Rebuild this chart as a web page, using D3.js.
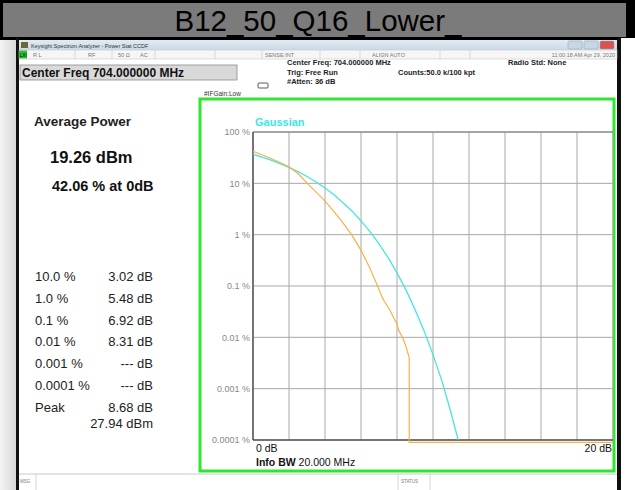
<!DOCTYPE html>
<html><head><meta charset="utf-8">
<script src="https://cdn.jsdelivr.net/npm/d3@7"></script>
<style>
html,body{margin:0;padding:0;background:#fff;}
svg{display:block;font-family:"Liberation Sans",Arial,sans-serif;}
</style></head>
<body>
<svg id="c" width="635" height="490"></svg>
<script>
// ---- data ----
const measuredDb  = [0, 0.5, 1, 1.5, 2, 2.5, 3.02, 3.5, 4, 4.5, 5, 5.48, 6, 6.5, 6.92, 7.2, 7.3, 7.6, 7.9, 8.0, 8.1, 8.31, 8.5, 8.68, 8.68, 20];
const measuredPct = [42.06, 36, 30.5, 25.5, 21, 15.5, 10, 6.8, 4.5, 2.8, 1.7, 1.0, 0.5, 0.22, 0.1, 0.058, 0.05, 0.034, 0.021, 0.018, 0.0135, 0.01, 0.0066, 0.004, 0.00009, 0.00009];
const gaussDb  = [0, 0.5, 1, 1.5, 2, 2.5, 3, 3.5, 4, 4.5, 5, 5.5, 6, 6.5, 7, 7.5, 8, 8.5, 9, 9.5, 10, 10.5, 11, 11.4];
const gaussPct = [37, 32.5, 28.3, 24.3, 20.5, 16.9, 13.6, 10.6, 8.1, 6.0, 4.2, 2.9, 1.85, 1.15, 0.66, 0.36, 0.18, 0.084, 0.035, 0.0135, 0.0046, 0.0014, 0.00034, 0.0001];
const yTickValues = [100, 10, 1, 0.1, 0.01, 0.001, 0.0001];
const yTickLabels = ["100 %", "10 %", "1 %", "0.1 %", "0.01 %", "0.001 %", "0.0001 %"];
const xTickValues = [0, 2, 4, 6, 8, 10, 12, 14, 16, 18, 20];
const tableLabels = ["10.0 %", "1.0 %", "0.1 %", "0.01 %", "0.001 %", "0.0001 %", "Peak"];
const tableValues = ["3.02 dB", "5.48 dB", "6.92 dB", "8.31 dB", "--- dB", "--- dB", "8.68 dB"];
const peakDbm = "27.94 dBm";
const avgPower = "19.26 dBm";
const atZero = "42.06 % at 0dB";

const svg = d3.select("#c");

// ---- page background ----
const defs = svg.append("defs");
const lg = defs.append("linearGradient").attr("id","bgL").attr("x1",0).attr("x2",1).attr("y1",0).attr("y2",0);
lg.append("stop").attr("offset","0").attr("stop-color","#f4f4f4");
lg.append("stop").attr("offset","1").attr("stop-color","#d6d6d6");
svg.append("rect").attr("x",0).attr("y",0).attr("width",635).attr("height",490).attr("fill","#fff");
svg.append("rect").attr("x",0).attr("y",38).attr("width",17).attr("height",452).attr("fill","url(#bgL)");

// title band
svg.append("rect").attr("x",0).attr("y",0).attr("width",635).attr("height",40).attr("fill","#000");
svg.append("rect").attr("x",3).attr("y",3).attr("width",623).attr("height",34).attr("fill","#7b7b7b");
svg.append("text").attr("x",318).attr("y",31).attr("text-anchor","middle")
  .attr("font-size",29.5).attr("fill","#000").text("B12_50_Q16_Lower_");

// window borders
svg.append("rect").attr("x",16).attr("y",38).attr("width",3).attr("height",452).attr("fill","#111");
svg.append("rect").attr("x",617).attr("y",38).attr("width",4).attr("height",452).attr("fill","#111");
svg.append("rect").attr("x",621).attr("y",38).attr("width",14).attr("height",452).attr("fill","#fff");

// window title bar
const tg = defs.append("linearGradient").attr("id","tb").attr("x1",0).attr("x2",0).attr("y1",0).attr("y2",1);
tg.append("stop").attr("offset","0").attr("stop-color","#e2ecf4");
tg.append("stop").attr("offset","1").attr("stop-color","#c9d9e7");
svg.append("rect").attr("x",19).attr("y",40).attr("width",598).attr("height",10).attr("fill","url(#tb)");
svg.append("rect").attr("x",21).attr("y",42).attr("width",7).attr("height",6).attr("fill","#6b6b3a");
svg.append("text").attr("x",31).attr("y",47.5).attr("font-size",5.5).attr("fill","#333")
  .text("Keysight Spectrum Analyzer - Power Stat CCDF");
[[568,"#c8d6e4"],[584,"#c8d6e4"],[600,"#d9534f"]].forEach(([x,c])=>{
  svg.append("rect").attr("x",x).attr("y",41).attr("width",14).attr("height",8).attr("rx",1.5)
    .attr("fill",c).attr("stroke","#8aa0b8").attr("stroke-width",0.5);
});

// status row
svg.append("rect").attr("x",19).attr("y",50).attr("width",598).attr("height",9).attr("fill","#f6f6f6")
  .attr("stroke","#c8c8c8").attr("stroke-width",0.6);
svg.append("rect").attr("x",19).attr("y",50.5).attr("width",8).attr("height",8).attr("fill","#2fbf2f");
svg.append("text").attr("x",20).attr("y",57).attr("font-size",4.5).attr("fill","#000").text("LXI");
[[33,"R L"],[88,"RF"],[118,"50 Ω"],[140,"AC"],[265,"SENSE:INT"],[372,"ALIGN AUTO"]].forEach(([x,t])=>{
  svg.append("text").attr("x",x).attr("y",57).attr("font-size",5.5).attr("fill","#777").text(t);
});
svg.append("text").attr("x",615).attr("y",57).attr("text-anchor","end").attr("font-size",5.5).attr("fill","#777")
  .text("11:00:18 AM Apr 29, 2020");
[75,112,155,215,262,320,360,440,470].forEach(x=>{
  svg.append("line").attr("x1",x).attr("x2",x).attr("y1",50).attr("y2",59).attr("stroke","#c8c8c8").attr("stroke-width",0.6);
});

// header area
svg.append("rect").attr("x",20).attr("y",65).attr("width",217).attr("height",15).attr("fill","#d9d9d9")
  .attr("stroke","#8c8c8c").attr("stroke-width",0.8);
svg.append("text").attr("x",22).attr("y",77).attr("font-size",12).attr("font-weight","bold").attr("fill","#111")
  .text("Center Freq 704.000000 MHz");
svg.append("text").attr("x",287).attr("y",65).attr("font-size",7.5).attr("font-weight","bold").attr("fill","#222")
  .text("Center Freq: 704.000000 MHz");
svg.append("text").attr("x",287).attr("y",74.5).attr("font-size",7.5).attr("font-weight","bold").attr("fill","#222")
  .text("Trig: Free Run");
svg.append("text").attr("x",287).attr("y",84).attr("font-size",7.5).attr("font-weight","bold").attr("fill","#222")
  .text("#Atten: 36 dB");
svg.append("text").attr("x",398).attr("y",74.5).attr("font-size",7.5).attr("font-weight","bold").attr("fill","#222")
  .text("Counts:50.0 k/100 kpt");
svg.append("text").attr("x",508).attr("y",65).attr("font-size",7.5).attr("font-weight","bold").attr("fill","#222")
  .text("Radio Std: None");
svg.append("text").attr("x",204).attr("y",96).attr("font-size",6.5).attr("fill","#333").text("#IFGain:Low");
svg.append("rect").attr("x",258).attr("y",83).attr("width",10).attr("height",5).attr("rx",1)
  .attr("fill","none").attr("stroke","#333").attr("stroke-width",0.8);

// left panel
svg.append("text").attr("x",34).attr("y",126).attr("font-size",13.5).attr("font-weight","bold").attr("fill","#222")
  .text("Average Power");
svg.append("text").attr("x",50).attr("y",163).attr("font-size",16.5).attr("font-weight","bold").attr("fill","#111")
  .text(avgPower);
svg.append("text").attr("x",52).attr("y",191).attr("font-size",14.5).attr("font-weight","bold").attr("fill","#111")
  .text(atZero);
tableLabels.forEach((t,i)=>{
  const y = 281 + i*21.8;
  svg.append("text").attr("x",35).attr("y",y).attr("font-size",13).attr("fill","#222").text(t);
  svg.append("text").attr("x",153).attr("y",y).attr("text-anchor","end").attr("font-size",13).attr("fill","#222").text(tableValues[i]);
});
svg.append("text").attr("x",153).attr("y",281+6*21.8+16).attr("text-anchor","end").attr("font-size",13).attr("fill","#222").text(peakDbm);

// bottom msg bar
svg.append("line").attr("x1",19).attr("x2",617).attr("y1",474).attr("y2",474).attr("stroke","#bbb").attr("stroke-width",0.8);
svg.append("text").attr("x",20).attr("y",483).attr("font-size",4.5).attr("fill","#777").text("MSG");
svg.append("text").attr("x",401).attr("y",483).attr("font-size",4.5).attr("fill","#777").text("STATUS");
[36,398,430].forEach(x=>{
  svg.append("line").attr("x1",x).attr("x2",x).attr("y1",474).attr("y2",490).attr("stroke","#ccc").attr("stroke-width",0.8);
});

// green frame
svg.append("rect").attr("x",200).attr("y",99).attr("width",414).attr("height",372)
  .attr("fill","none").attr("stroke","#2ee62e").attr("stroke-width",3);

// ---- chart ----
const x = d3.scaleLinear().domain([0,20]).range([253,613]);
const y = d3.scaleLog().domain([0.0001,100]).range([440,132]);

const g = svg.append("g");
// grid
g.selectAll(".vg").data(xTickValues).enter().append("line")
  .attr("x1",d=>x(d)).attr("x2",d=>x(d)).attr("y1",y(100)).attr("y2",y(0.0001))
  .attr("stroke","#a8a8a8").attr("stroke-width",1);
g.selectAll(".hg").data(yTickValues).enter().append("line")
  .attr("x1",x(0)).attr("x2",x(20)).attr("y1",d=>y(d)).attr("y2",d=>y(d))
  .attr("stroke","#a8a8a8").attr("stroke-width",1);
// frame
g.append("line").attr("x1",x(0)).attr("x2",x(20)).attr("y1",y(100)).attr("y2",y(100)).attr("stroke","#777").attr("stroke-width",1.2);
g.append("line").attr("x1",x(0)).attr("x2",x(0)).attr("y1",y(100)).attr("y2",y(0.0001)).attr("stroke","#555").attr("stroke-width",1.5);
g.append("line").attr("x1",x(0)).attr("x2",x(20)).attr("y1",y(0.0001)).attr("y2",y(0.0001)).attr("stroke","#555").attr("stroke-width",1.5);

// y axis labels
const yAxis = d3.axisLeft(y).tickValues(yTickValues).tickFormat((d,i)=>yTickLabels[i]).tickSize(0).tickPadding(3);
const ya = svg.append("g").attr("transform",`translate(${x(0)},0)`).call(yAxis);
ya.select(".domain").remove();
ya.selectAll("text").attr("font-size",9).attr("fill","#888").attr("font-family","Liberation Sans, Arial, sans-serif");

// curves
const line = d3.line().x(d=>x(d[0])).y(d=>y(d[1]));
const gaussData = gaussDb.map((d,i)=>[d,gaussPct[i]]);
const measData = measuredDb.map((d,i)=>[d,measuredPct[i]]);
g.append("path").attr("d",line(gaussData)).attr("fill","none").attr("stroke","#48e4e0").attr("stroke-width",1.3);
g.append("path").attr("d",line(measData)).attr("fill","none").attr("stroke","#f5b24a").attr("stroke-width",1.2);

// labels
svg.append("text").attr("x",255).attr("y",126).attr("font-size",11).attr("font-weight","bold").attr("fill","#3ee6e6").text("Gaussian");
svg.append("text").attr("x",256).attr("y",452).attr("font-size",10.5).attr("fill","#111").text("0 dB");
svg.append("text").attr("x",612).attr("y",452).attr("text-anchor","end").attr("font-size",10.5).attr("fill","#111").text("20 dB");
const ib = svg.append("text").attr("x",256).attr("y",466).attr("font-size",10.5).attr("fill","#111");
ib.append("tspan").attr("font-weight","bold").text("Info BW ");
ib.append("tspan").text("20.000 MHz");
</script>
</body></html>
